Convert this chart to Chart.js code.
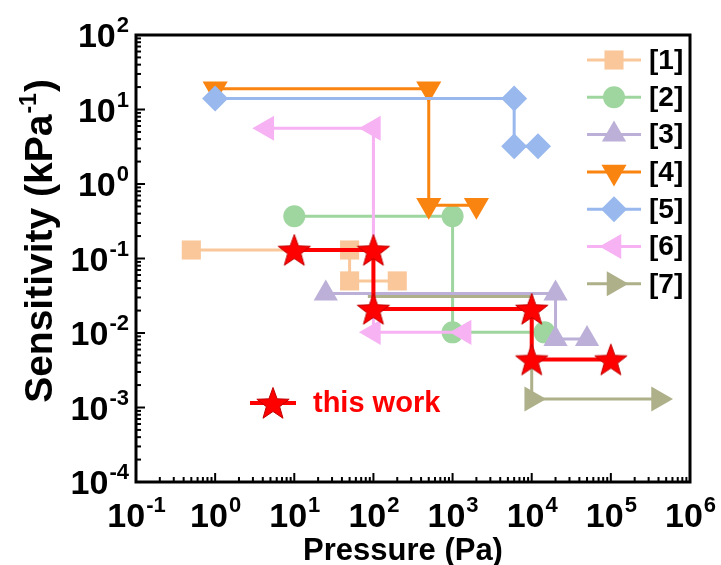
<!DOCTYPE html>
<html>
<head>
<meta charset="utf-8">
<script src="https://cdn.jsdelivr.net/npm/chart.js@4.4.1/dist/chart.umd.min.js"></script>
<style>
    body { margin: 0; background: #fff; }
    #wrap { width: 721px; height: 565px; }
</style>
</head>
<body>
<div id="wrap"><canvas id="sensChart" width="721" height="565"></canvas></div>
<script>
// values: pressure in Pa, sensitivity in kPa^-1
const refNames = ['[1]', '[2]', '[3]', '[4]', '[5]', '[6]', '[7]'];

const pressure1 = [0.5, 50, 50, 200];
const sens1 = [0.13, 0.13, 0.05, 0.05];

const pressure2 = [10, 1000, 1000, 14500];
const sens2 = [0.37, 0.37, 0.0102, 0.0102];

const pressure3 = [25, 20000, 20000, 50000];
const sens3 = [0.034, 0.034, 0.0083, 0.0083];

const pressure4 = [1, 500, 500, 2000];
const sens4 = [19, 19, 0.52, 0.52];

const pressure5 = [1, 6000, 6000, 12000];
const sens5 = [14, 14, 3.2, 3.2];

const pressure6 = [4.5, 100, 100, 1400];
const sens6 = [5.6, 5.6, 0.0102, 0.0102];

const pressure7 = [85, 10000, 10000, 400000];
const sens7 = [0.031, 0.031, 0.0013, 0.0013];

const workPressure = [10, 100, 100, 10000, 10000, 100000];
const workSens = [0.13, 0.13, 0.021, 0.021, 0.0044, 0.0044];

const xTickExps = [-1, 0, 1, 2, 3, 4, 5, 6];
const yTickExps = [-4, -3, -2, -1, 0, 1, 2];

const FONT = '"Liberation Sans", Arial, sans-serif';

function toPoints(xs, ys) {
    return xs.map((x, i) => ({ x: x, y: ys[i] }));
}

// filled five-point star used as marker for "this work"
function makeStar(outer, inner) {
    const size = Math.ceil(outer * 2 + 4);
    const c = document.createElement('canvas');
    c.width = size;
    c.height = size;
    const g = c.getContext('2d');
    const cx = size / 2, cy = size / 2 + 1.5;
    g.beginPath();
    for (let i = 0; i < 10; i++) {
        const r = i % 2 === 0 ? outer : inner;
        const a = -Math.PI / 2 + i * Math.PI / 5;
        const px = cx + r * Math.cos(a), py = cy + r * Math.sin(a);
        if (i === 0) g.moveTo(px, py); else g.lineTo(px, py);
    }
    g.closePath();
    g.fillStyle = '#ff0000';
    g.fill();
    g.strokeStyle = '#c00000';
    g.lineWidth = 1;
    g.stroke();
    return c;
}
const starImg = makeStar(17, 7);

const styles = [
    { color: '#f9c79a', pointStyle: 'rect', radius: 13.5, rotation: 0 },
    { color: '#9fd69f', pointStyle: 'circle', radius: 11, rotation: 0 },
    { color: '#bcb0d8', pointStyle: 'triangle', radius: 14, rotation: 0 },
    { color: '#f98410', pointStyle: 'triangle', radius: 14.5, rotation: 180 },
    { color: '#98b8ee', pointStyle: 'rectRot', radius: 13, rotation: 0 },
    { color: '#f6b2f3', pointStyle: 'triangle', radius: 14.5, rotation: -90 },
    { color: '#aeb08a', pointStyle: 'triangle', radius: 14.5, rotation: 90 }
];

const seriesX = [pressure1, pressure2, pressure3, pressure4, pressure5, pressure6, pressure7];
const seriesY = [sens1, sens2, sens3, sens4, sens5, sens6, sens7];

const datasets = refNames.map((name, i) => {
    const st = styles[i];
    let radius = st.radius;
    if (i === 6) radius = [0, 0, st.radius, st.radius]; // first part of [7] is hidden under other lines
    return {
        label: name,
        data: toPoints(seriesX[i], seriesY[i]),
        showLine: true,
        borderColor: st.color,
        backgroundColor: st.color,
        borderWidth: 3,
        pointStyle: st.pointStyle,
        pointRotation: st.rotation,
        pointRadius: radius,
        pointBackgroundColor: st.color,
        pointBorderColor: st.color,
        pointBorderWidth: 0,
        order: 7 - i
    };
});

datasets.push({
    label: 'this work',
    data: toPoints(workPressure, workSens),
    showLine: true,
    borderColor: '#ff0000',
    backgroundColor: '#ff0000',
    borderWidth: 4,
    pointStyle: starImg,
    pointRadius: 17,
    order: -1
});

function drawPow(ctx, exp, x, y, align) {
    const baseFont = 'bold 34px ' + FONT;
    const expFont = 'bold 22px ' + FONT;
    ctx.font = baseFont;
    const wb = ctx.measureText('10').width;
    ctx.font = expFont;
    const we = ctx.measureText(String(exp)).width;
    let start = x - wb - we;
    if (align === 'center') start = x - (wb + we) / 2;
    ctx.textAlign = 'left';
    ctx.textBaseline = 'alphabetic';
    ctx.font = baseFont;
    ctx.fillText('10', start, y);
    ctx.font = expFont;
    ctx.fillText(String(exp), start + wb + 1, y - 15);
}

const framePlugin = {
    id: 'framePlugin',
    afterDraw(chart) {
        const ctx = chart.ctx;
        const a = chart.chartArea;
        const xs = chart.scales.x, ys = chart.scales.y;
        ctx.save();
        ctx.fillStyle = '#000';
        ctx.strokeStyle = '#000';

        // ticks, pointing inward on left and bottom
        ctx.lineWidth = 2;
        for (let e = -1; e < 6; e++) {
            for (let m = 1; m < 10; m++) {
                const px = xs.getPixelForValue(m * Math.pow(10, e));
                const len = m === 1 ? 9 : 5;
                ctx.beginPath();
                ctx.moveTo(px, a.bottom);
                ctx.lineTo(px, a.bottom - len);
                ctx.stroke();
            }
        }
        for (let e = -4; e < 2; e++) {
            for (let m = 1; m < 10; m++) {
                const py = ys.getPixelForValue(m * Math.pow(10, e));
                const len = m === 1 ? 9 : 5;
                ctx.beginPath();
                ctx.moveTo(a.left, py);
                ctx.lineTo(a.left + len, py);
                ctx.stroke();
            }
        }

        // frame
        ctx.lineWidth = 3;
        ctx.strokeRect(a.left, a.top, a.right - a.left, a.bottom - a.top);

        // tick labels
        xTickExps.forEach(e => {
            drawPow(ctx, e, xs.getPixelForValue(Math.pow(10, e)), 527, 'center');
        });
        yTickExps.forEach(e => {
            drawPow(ctx, e, a.left - 8, ys.getPixelForValue(Math.pow(10, e)) + 12, 'right');
        });

        // axis titles
        ctx.font = 'bold 31px ' + FONT;
        ctx.textAlign = 'center';
        ctx.textBaseline = 'alphabetic';
        ctx.fillText('Pressure (Pa)', 403, 560);

        ctx.save();
        ctx.translate(52, 242);
        ctx.rotate(-Math.PI / 2);
        const t1 = 'Sensitivity (kPa', t2 = '-1', t3 = ')';
        ctx.font = 'bold 39px ' + FONT;
        const w1 = ctx.measureText(t1).width, w3 = ctx.measureText(t3).width;
        ctx.font = 'bold 23px ' + FONT;
        const w2 = ctx.measureText(t2).width;
        let sx = -(w1 + w2 + w3) / 2;
        ctx.textAlign = 'left';
        ctx.font = 'bold 39px ' + FONT;
        ctx.fillText(t1, sx, 0);
        ctx.font = 'bold 23px ' + FONT;
        ctx.fillText(t2, sx + w1 + 1, -16);
        ctx.font = 'bold 39px ' + FONT;
        ctx.fillText(t3, sx + w1 + w2 + 2, 0);
        ctx.restore();

        // legend for references
        const helpers = Chart.helpers;
        refNames.forEach((name, i) => {
            const st = styles[i];
            const ly = 60 + i * 37.3;
            ctx.strokeStyle = st.color;
            ctx.fillStyle = st.color;
            ctx.lineWidth = 3;
            ctx.beginPath();
            ctx.moveTo(587, ly);
            ctx.lineTo(641, ly);
            ctx.stroke();
            helpers.drawPoint(ctx, {
                pointStyle: st.pointStyle, radius: st.radius,
                rotation: st.rotation, borderWidth: 0
            }, 614, ly);
            ctx.fillStyle = '#000';
            ctx.font = 'bold 28px ' + FONT;
            ctx.textAlign = 'left';
            ctx.textBaseline = 'middle';
            ctx.fillText(name, 649, ly + 1);
        });

        // legend for this work
        const wy = 403;
        ctx.strokeStyle = '#ff0000';
        ctx.lineWidth = 4;
        ctx.beginPath();
        ctx.moveTo(250, wy);
        ctx.lineTo(296, wy);
        ctx.stroke();
        ctx.drawImage(starImg, 273 - starImg.width / 2, wy - starImg.height / 2);
        ctx.fillStyle = '#ff0000';
        ctx.font = 'bold 29px ' + FONT;
        ctx.textAlign = 'left';
        ctx.textBaseline = 'middle';
        ctx.fillText('this work', 313, wy + 1);

        ctx.restore();
    }
};

const sensChart = new Chart(document.getElementById('sensChart').getContext('2d'), {
    type: 'scatter',
    data: { datasets: datasets },
    options: {
        responsive: false,
        animation: false,
        devicePixelRatio: 1,
        layout: { padding: { left: 136, top: 35, right: 31, bottom: 83 } },
        scales: {
            x: { type: 'logarithmic', min: 0.1, max: 1e6, display: false },
            y: { type: 'logarithmic', min: 1e-4, max: 100, display: false }
        },
        plugins: {
            legend: { display: false },
            tooltip: { enabled: false }
        }
    },
    plugins: [framePlugin]
});
</script>
</body>
</html>
